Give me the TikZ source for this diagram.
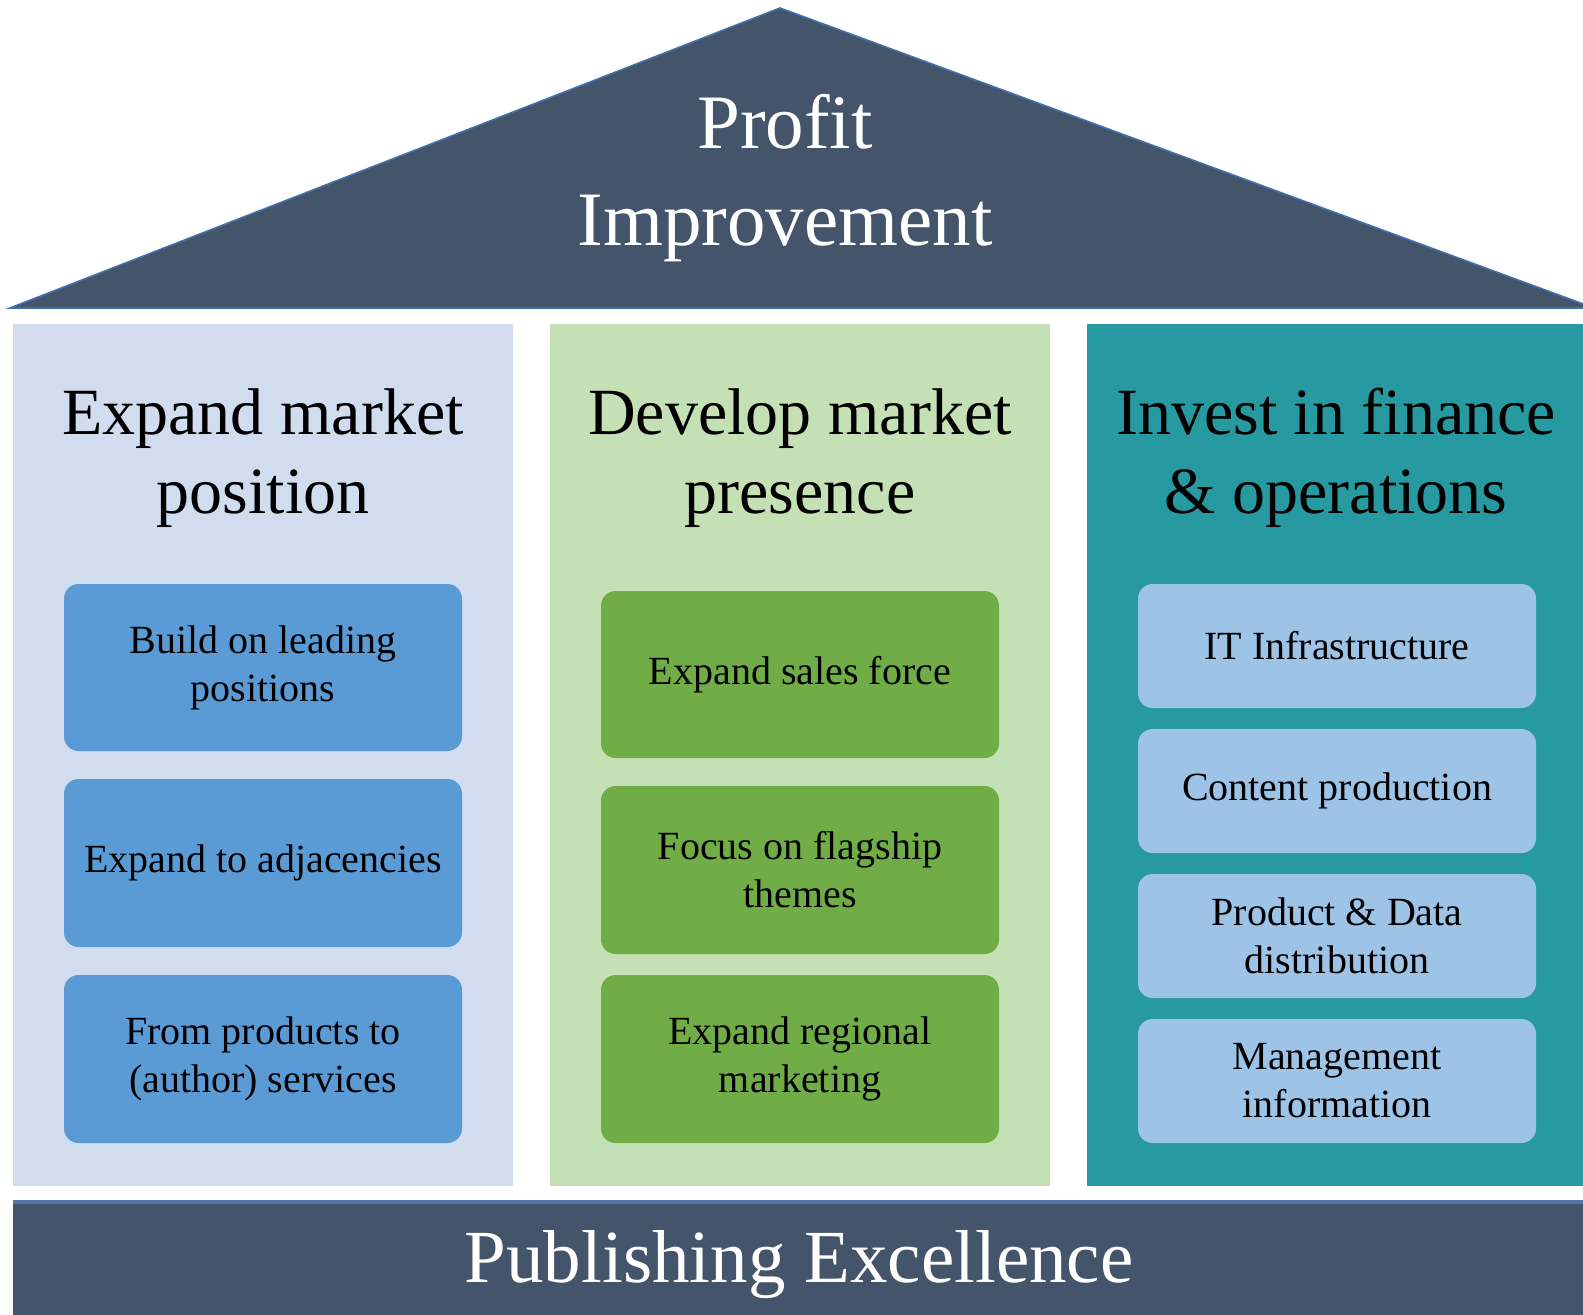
\documentclass[tikz,border=0pt]{standalone}
\usepackage{fontspec}
\setmainfont{Liberation Serif}

\tikzset{every picture/.style={line width=0.75pt}}
\tikzset{
  roof/.style={fill={rgb, 255:red, 68; green, 84; blue, 106 }, draw={rgb, 255:red, 65; green, 113; blue, 170 }, line width=1.2},
  colA/.style={fill={rgb, 255:red, 209; green, 221; blue, 238 }},
  colB/.style={fill={rgb, 255:red, 197; green, 224; blue, 180 }},
  colC/.style={fill={rgb, 255:red, 39; green, 154; blue, 161 }},
  boxA/.style={fill={rgb, 255:red, 91; green, 155; blue, 213 }, rounded corners=11pt},
  boxB/.style={fill={rgb, 255:red, 112; green, 173; blue, 71 }, rounded corners=11pt},
  boxC/.style={fill={rgb, 255:red, 157; green, 195; blue, 230 }, rounded corners=11pt},
  roofText/.style={text=white, align=center, font=\fontsize{57.75}{72.75}\selectfont},
  headText/.style={align=center, font=\fontsize{49.5}{59.25}\selectfont},
  boxText/.style={align=center, font=\fontsize{30}{36}\selectfont},
  baseText/.style={text=white, anchor=base, font=\fontsize{56.25}{60}\selectfont}
}

\begin{document}
\begin{tikzpicture}[x=0.75pt,y=0.75pt,yscale=-1,xscale=1]
\useasboundingbox (0,0) rectangle (1583,1314);
\clip (0,0) rectangle (1583,1314);

%Shape: Triangle [id:roof]
\draw [roof] (780,8) -- (1594,308) -- (10,308) -- cycle ;

%Shape: Rectangle [id:colA]
\fill [colA] (13,324) rectangle (513,1186) ;
%Shape: Rectangle [id:colB]
\fill [colB] (550,324) rectangle (1050,1186) ;
%Shape: Rectangle [id:colC]
\fill [colC] (1087,324) rectangle (1590,1186) ;

%Shape: Rectangle [id:base]
\fill [fill={rgb, 255:red, 68; green, 84; blue, 106 }] (13,1201) rectangle (1590,1320) ;
\draw [draw={rgb, 255:red, 84; green, 120; blue, 170 }, line width=2.5] (13,1202) -- (1590,1202) ;

%Rounded Rect [id:boxA1]
\fill [boxA] (64,584) rectangle (462,751) ;
%Rounded Rect [id:boxA2]
\fill [boxA] (64,779) rectangle (462,947) ;
%Rounded Rect [id:boxA3]
\fill [boxA] (64,975) rectangle (462,1143) ;

%Rounded Rect [id:boxB1]
\fill [boxB] (601,591) rectangle (999,758) ;
%Rounded Rect [id:boxB2]
\fill [boxB] (601,786) rectangle (999,954) ;
%Rounded Rect [id:boxB3]
\fill [boxB] (601,975) rectangle (999,1143) ;

%Rounded Rect [id:boxC1]
\fill [boxC] (1138,584) rectangle (1536,708) ;
%Rounded Rect [id:boxC2]
\fill [boxC] (1138,729) rectangle (1536,853) ;
%Rounded Rect [id:boxC3]
\fill [boxC] (1138,874) rectangle (1536,998) ;
%Rounded Rect [id:boxC4]
\fill [boxC] (1138,1019) rectangle (1536,1143) ;

% Text Node
\node [roofText] (profit) at (785,178) {Profit\\Improvement};
% Text Node
\node [headText] (headA) at (263,458) {Expand market\\position};
% Text Node
\node [headText] (headB) at (800,458) {Develop market\\presence};
% Text Node
\node [headText] (headC) at (1336,458) {Invest in finance\\\& operations};

% Text Node
\node [boxText] (leading) at (263,667.5) {Build on leading\\positions};
% Text Node
\node [boxText] (adjacent) at (263,863) {Expand to adjacencies};
% Text Node
\node [boxText] (services) at (263,1059) {From products to\\(author) services};

% Text Node
\node [boxText] (sales) at (800,674.5) {Expand sales force};
% Text Node
\node [boxText] (flagship) at (800,870) {Focus on flagship\\themes};
% Text Node
\node [boxText] (regional) at (800,1059) {Expand regional\\marketing};

% Text Node
\node [boxText] (infra) at (1337,646) {IT Infrastructure};
% Text Node
\node [boxText] (content) at (1337,791) {Content production};
% Text Node
\node [boxText] (distrib) at (1337,936) {Product \& Data\\distribution};
% Text Node
\node [boxText] (mgmt) at (1337,1081) {Management\\information};

% Text Node
\node [baseText] (excellence) at (799,1282) {Publishing Excellence};

\end{tikzpicture}
\end{document}
